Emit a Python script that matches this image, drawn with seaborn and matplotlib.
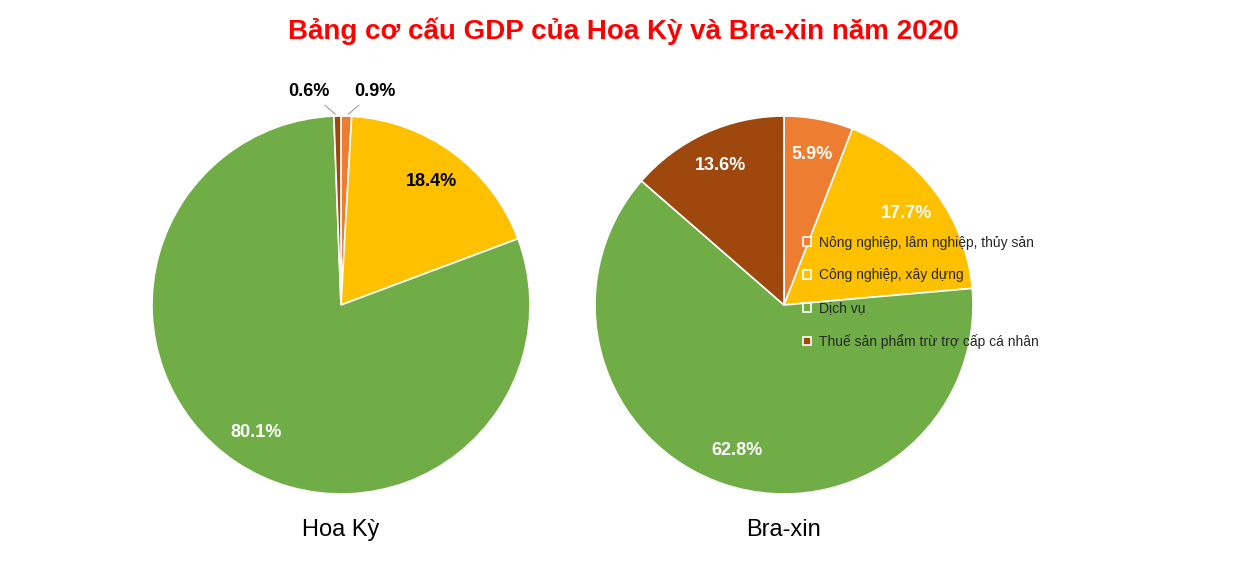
import numpy as np
import matplotlib
matplotlib.use("Agg")
import matplotlib.pyplot as plt
import seaborn as sns

sns.set_theme(style="white")
plt.rcParams['font.family'] = ['Liberation Sans', 'DejaVu Sans']

categories = ["Nông nghiệp, lâm nghiệp, thủy sản", "Công nghiệp, xây dựng",
              "Dịch vụ", "Thuế sản phẩm trừ trợ cấp cá nhân"]
usa = [0.9, 18.4, 80.1, 0.6]
brazil = [5.9, 17.7, 62.8, 13.6]
countries = ["Hoa Kỳ", "Bra-xin"]
colors = sns.color_palette(["#ED7D31", "#FFC000", "#70AD47", "#9E480E"])

fig = plt.figure(figsize=(12.47, 5.62), dpi=100)
fig.text(0.5, 0.945, "Bảng cơ cấu GDP của Hoa Kỳ và Bra-xin năm 2020", color="#FF0000",
         fontsize=20, fontweight="bold", ha="center", va="center")

def draw(cx, vals, name, label_colors):
    w, h = 378/1247, 378/562
    ax = fig.add_axes([cx/1247 - w/2, 1 - 305/562 - h/2, w, h])
    wedges, _ = ax.pie(vals, colors=colors, startangle=90, counterclock=False,
                       wedgeprops=dict(edgecolor="white", linewidth=1.2))
    tot = sum(vals)
    for wdg, v, lc in zip(wedges, vals, label_colors):
        ang = np.deg2rad((wdg.theta1 + wdg.theta2) / 2)
        if v < 3:
            sign = 1 if np.cos(ang) > 0 else -1
            ex, ey = np.cos(ang), np.sin(ang)
            ax.annotate(f"{v}%", xy=(ex, ey), xytext=(ex + sign*0.15, 1.13),
                        ha="center", va="center", fontsize=13, fontweight="bold", color="black",
                        arrowprops=dict(arrowstyle="-", color="#A0A0A0", lw=0.8))
        else:
            ax.text(0.81*np.cos(ang), 0.81*np.sin(ang), f"{v}%", ha="center", va="center",
                    fontsize=13, fontweight="bold", color=lc)
    ax.set_xlim(-1, 1); ax.set_ylim(-1, 1)
    fig.text(cx/1247, 1 - 530/562, name, ha="center", va="center", fontsize=17, color="black")
    return wedges

wedges = draw(341, usa, countries[0], ["black", "black", "white", "black"])
draw(784, brazil, countries[1], ["white"]*4)

fig.legend(wedges, categories, loc="center left", bbox_to_anchor=(790/1247, 0.48),
           frameon=False, fontsize=10, handlelength=0.6, handleheight=0.6,
           labelspacing=1.35, handletextpad=0.6)
fig.savefig("out.png", dpi=100, facecolor="white")
